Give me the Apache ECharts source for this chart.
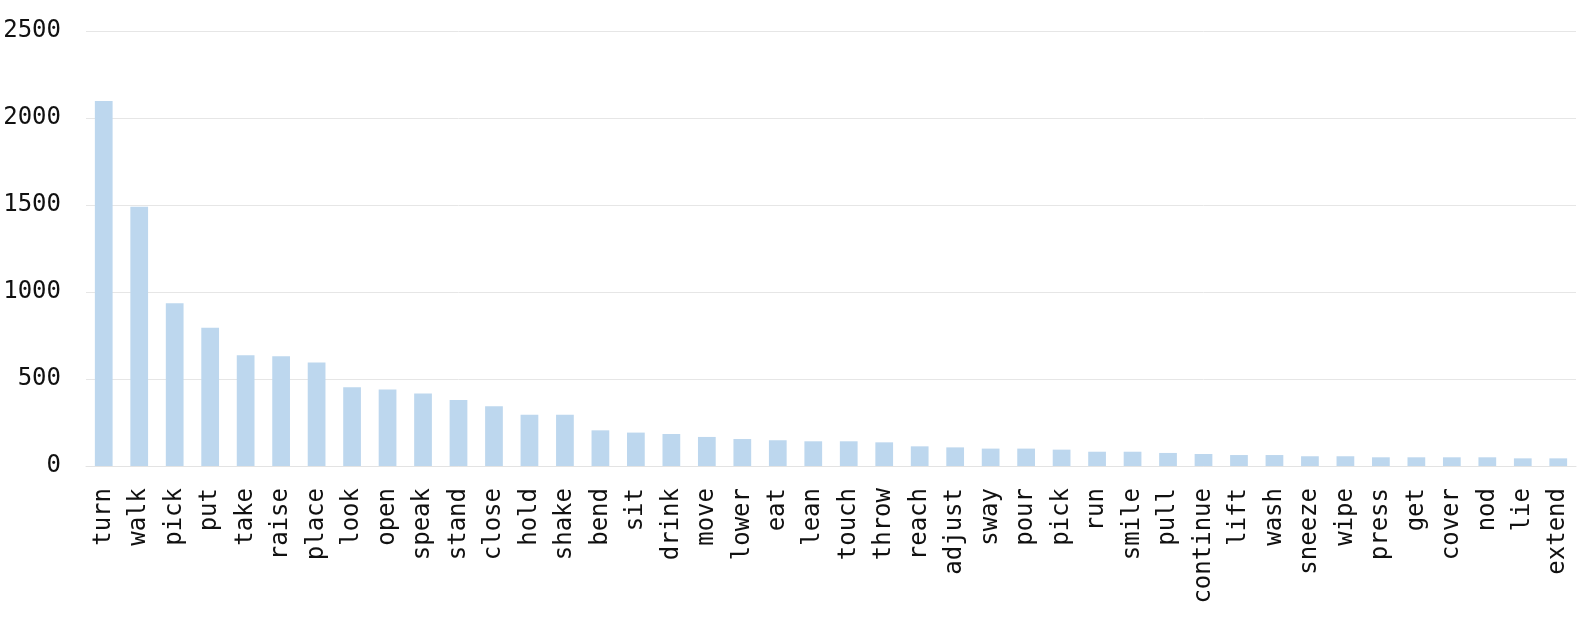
<!DOCTYPE html>
<html>
<head>
<meta charset="utf-8">
<script src="https://cdn.jsdelivr.net/npm/echarts@6/dist/echarts.min.js"></script>
<style>html,body{margin:0;padding:0;background:#fff;}#c{width:1578px;height:619px;}</style>
</head>
<body>
<div id="c"></div>
<script>
const categories = ['turn','walk','pick','put','take','raise','place','look','open','speak','stand','close','hold','shake','bend','sit','drink','move','lower','eat','lean','touch','throw','reach','adjust','sway','pour','pick','run','smile','pull','continue','lift','wash','sneeze','wipe','press','get','cover','nod','lie','extend'];
const counts = [2098,1490,935,795,636,631,595,452,440,416,379,343,295,295,205,192,184,167,155,148,142,142,136,113,107,100,100,94,82,82,75,69,63,63,56,56,50,50,50,50,44,44];
const yTicks = { min: 0, max: 2500, interval: 500 };

const chart = echarts.init(document.getElementById('c'), null, { renderer: 'canvas' });
chart.setOption({
  animation: false,
  textStyle: { fontFamily: 'DejaVu Sans Mono' },
  grid: { left: 86, right: 2, top: 31, bottom: 153, containLabel: false, outerBoundsMode: 'none' },
  xAxis: {
    type: 'category',
    data: categories.map((c, i) => ({ value: c + '\u200b'.repeat(i === 27 ? 1 : 0) })),
    axisLine: { show: true, lineStyle: { color: '#e3e3e3', width: 1 } },
    axisTick: { show: false },
    axisLabel: {
      interval: 0, rotate: 90, margin: 22,
      fontFamily: 'DejaVu Sans Mono', fontSize: 24, color: '#111',
      formatter: v => v.replace(/\u200b/g, '')
    },
    splitLine: { show: false }
  },
  yAxis: {
    type: 'value',
    min: yTicks.min, max: yTicks.max, interval: yTicks.interval,
    axisLine: { show: false },
    axisTick: { show: false },
    axisLabel: { fontFamily: 'DejaVu Sans Mono', fontSize: 24, color: '#111', margin: 25, padding: [4, 0, 0, 0], formatter: v => String(v) },
    splitLine: { lineStyle: { color: '#e6e6e6', width: 1 } }
  },
  series: [{
    type: 'bar',
    data: counts,
    barWidth: '50%',
    itemStyle: { color: '#bdd7ee' }
  }]
});
</script>
</body>
</html>
